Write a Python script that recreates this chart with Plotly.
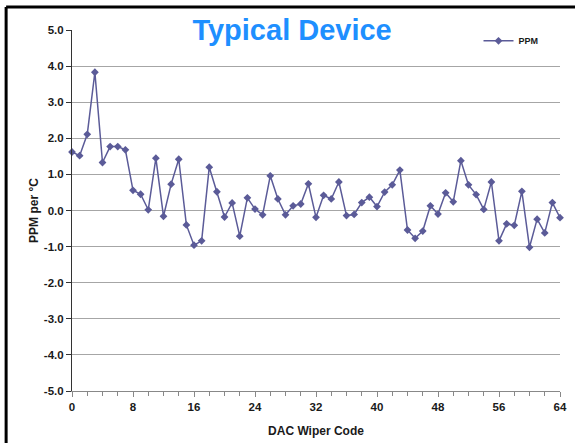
import plotly.graph_objects as go

C_LINE = '#5b5b98'
C_TITLE = '#1e8fff'
C_GRID = '#a6a6a6'
C_TEXT = '#1a1a1a'

codes = list(range(65))
ppm = [1.62, 1.52, 2.11, 3.83, 1.33, 1.77, 1.77, 1.68, 0.56, 0.45,
       0.02, 1.45, -0.16, 0.73, 1.42, -0.40, -0.96, -0.84, 1.20, 0.52,
       -0.18, 0.21, -0.71, 0.35, 0.04, -0.12, 0.96, 0.32, -0.12, 0.13,
       0.18, 0.74, -0.19, 0.42, 0.32, 0.79, -0.14, -0.11, 0.22, 0.37,
       0.11, 0.51, 0.71, 1.12, -0.54, -0.77, -0.57, 0.13, -0.10, 0.49,
       0.24, 1.38, 0.71, 0.44, 0.03, 0.79, -0.84, -0.37, -0.41, 0.53,
       -1.02, -0.24, -0.62, 0.22, -0.20]

y_ticks = [-5, -4, -3, -2, -1, 0, 1, 2, 3, 4, 5]
y_labels = ['-5.0', '-4.0', '-3.0', '-2.0', '-1.0', '0.0', '1.0', '2.0', '3.0', '4.0', '5.0']
x_ticks = [0, 8, 16, 24, 32, 40, 48, 56, 64]

fig = go.Figure(go.Scatter(
    x=codes, y=ppm, name='<b>PPM</b>', mode='lines+markers',
    line=dict(color=C_LINE, width=1.5),
    marker=dict(symbol='diamond', size=6, color=C_LINE),
    cliponaxis=False,
))

fig.update_layout(
    width=575, height=443,
    paper_bgcolor='white', plot_bgcolor='white',
    font=dict(family='Liberation Sans, Arial, sans-serif', color=C_TEXT, size=11),
    margin=dict(l=72, r=15, t=30, b=52),
    title=dict(text='<b>Typical Device</b>', x=0.508, xanchor='center',
               y=0.932, yanchor='middle',
               font=dict(size=29, color=C_TITLE)),
    showlegend=True,
    legend=dict(x=0.833, y=0.97, xanchor='left', yanchor='middle',
                bgcolor='rgba(0,0,0,0)', font=dict(size=9, color=C_TEXT),
                itemwidth=30),
    xaxis=dict(range=[0, 64], tickvals=x_ticks, ticktext=['<b>%d</b>' % v for v in x_ticks],
               showgrid=False, automargin=False,
               showline=True, linecolor='#888888', linewidth=1,
               ticks='outside', ticklen=5, tickcolor='#888888',
               minor=dict(dtick=2, tick0=0, ticks='outside', ticklen=4, tickcolor='#888888'),
               tickfont=dict(size=11.5, color=C_TEXT),
               title=dict(text='<b>DAC Wiper Code</b>', font=dict(size=12), standoff=14),
               zeroline=False),
    yaxis=dict(range=[-5, 5], tickvals=y_ticks, ticktext=['<b>%s</b>' % t for t in y_labels],
               showgrid=True, gridcolor=C_GRID, gridwidth=1, automargin=False,
               showline=True, linecolor='#333333', linewidth=1,
               ticks='outside', ticklen=5, tickcolor='#333333',
               tickfont=dict(size=11.5, color=C_TEXT),
               title=dict(text='<b>PPM per °C</b>', font=dict(size=12), standoff=2),
               zeroline=False),
)

# outer chart frame (only left and top edges fall inside the picture)
fig.add_shape(type='line', xref='paper', yref='paper',
              x0=-0.135, x1=-0.135, y0=-0.3, y1=1.064,
              line=dict(color='black', width=3))
fig.add_shape(type='line', xref='paper', yref='paper',
              x0=-0.135, x1=1.2, y0=1.064, y1=1.064,
              line=dict(color='black', width=3))

fig.write_html('out.html', config={'displayModeBar': False},
               post_script="document.body.style.margin='0';")
